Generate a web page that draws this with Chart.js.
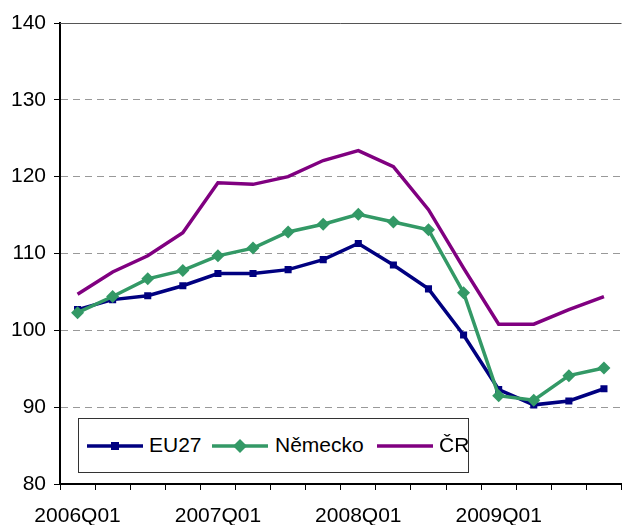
<!DOCTYPE html>
<html>
<head>
<meta charset="utf-8">
<script src="https://cdn.jsdelivr.net/npm/chart.js@4"></script>
<style>
  body { margin: 0; background: #fff; overflow: hidden; }
  #wrap { position: relative; width: 623px; height: 525px; overflow: hidden; }
  #legend {
    position: absolute; left: 78px; top: 418px; width: 389px; height: 53px;
    border: 1px solid #333; background: #fff;
    font-family: "Liberation Sans", Arial, sans-serif; font-size: 21px; color: #000;
  }
  .item { position: absolute; top: 0; height: 53px; line-height: 51px; white-space: nowrap; }
  .item svg { position: absolute; top: 20px; left: 0; }
  .item span { position: absolute; top: 0; }
</style>
</head>
<body>
<div id="wrap">
  <!-- a little wider than the window: the layout keeps ~5px free on the right -->
  <canvas id="chart" width="628" height="525"></canvas>
  <div id="legend"></div>
</div>
<script>
const quarters = ["2006Q01", "2006Q02", "2006Q03", "2006Q04",
                  "2007Q01", "2007Q02", "2007Q03", "2007Q04",
                  "2008Q01", "2008Q02", "2008Q03", "2008Q04",
                  "2009Q01", "2009Q02", "2009Q03", "2009Q04"];
const eu27 = [102.7, 104.0, 104.5, 105.8, 107.4, 107.4, 107.9, 109.2,
              111.3, 108.5, 105.4, 99.4, 92.3, 90.3, 90.8, 92.4];
const nemecko = [102.3, 104.4, 106.7, 107.8, 109.7, 110.7, 112.8, 113.8,
                 115.1, 114.1, 113.1, 104.9, 91.5, 90.9, 94.1, 95.1];
const cr = [104.7, 107.6, 109.7, 112.7, 119.2, 119.0, 120.0, 122.1,
            123.4, 121.3, 115.7, 108.1, 100.8, 100.8, 102.7, 104.4];
const seriesNames = ["EU27", "Německo", "ČR"];
const seriesColors = ["#000080", "#339966", "#800080"];

const font = { family: "'Liberation Sans', Arial, sans-serif", size: 21 };

// top border line of the plot area
const topLine = {
  id: "topLine",
  afterDraw(chart) {
    const a = chart.chartArea, c = chart.ctx;
    c.save();
    c.strokeStyle = "#555";
    c.lineWidth = 1;
    c.beginPath();
    c.moveTo(a.left, a.top + 0.5);
    c.lineTo(a.right, a.top + 0.5);
    c.stroke();
    c.restore();
  }
};

const ctx = document.getElementById("chart").getContext("2d");
new Chart(ctx, {
  type: "line",
  data: {
    labels: quarters,
    datasets: [
      { label: seriesNames[0], data: eu27, borderColor: seriesColors[0], backgroundColor: seriesColors[0],
        borderWidth: 3.5, pointStyle: "rect", pointRadius: 5, pointBorderWidth: 0, order: 3 },
      { label: seriesNames[1], data: nemecko, borderColor: seriesColors[1], backgroundColor: seriesColors[1],
        borderWidth: 3.5, pointStyle: "rectRot", pointRadius: 6.5, pointBorderWidth: 0, order: 2 },
      { label: seriesNames[2], data: cr, borderColor: seriesColors[2], backgroundColor: seriesColors[2],
        borderWidth: 3.5, pointRadius: 0, order: 1 }
    ]
  },
  options: {
    responsive: false,
    animation: false,
    layout: { padding: { top: 23, right: 0, left: 0, bottom: 0 } },
    plugins: { legend: { display: false }, tooltip: { enabled: false } },
    scales: {
      x: {
        offset: true,
        grid: { offset: true, drawOnChartArea: false, tickLength: 6, color: "#000" },
        border: { color: "#000", width: 2 },
        ticks: {
          color: "#000", font: font, autoSkip: false, maxRotation: 0, padding: 14,
          callback: function(v, i) { return i % 4 === 0 ? quarters[i] : ""; }
        },
        afterFit(scale) { scale.height = 41; }
      },
      y: {
        min: 80, max: 140,
        ticks: { stepSize: 10, color: "#000", font: font, padding: 8 },
        grid: {
          color: function(c) { return (c.tick && (c.tick.value === 140 || c.tick.value === 80)) ? "rgba(0,0,0,0)" : "#999"; },
          tickColor: "#000", tickLength: 6
        },
        border: { color: "#000", width: 2, dash: [7, 5] },
        afterFit(scale) { scale.width = 60; }
      }
    }
  },
  plugins: [topLine]
});

// legend
const legend = document.getElementById("legend");
const items = [
  { left: 8, text: 70, marker: "rect" },
  { left: 133, text: 196, marker: "diamond" },
  { left: 298, text: 360, marker: "none" }
];
items.forEach(function(it, i) {
  const d = document.createElement("div");
  d.className = "item";
  d.style.left = it.left + "px";
  let m = "";
  if (it.marker === "rect") m = '<rect x="24" y="2" width="8" height="8" fill="' + seriesColors[i] + '"/>';
  if (it.marker === "diamond") m = '<polygon points="28,-1 35,6 28,13 21,6" fill="' + seriesColors[i] + '"/>';
  d.innerHTML = '<svg width="57" height="14" viewBox="0 -1 57 14" overflow="visible">' +
    '<line x1="0" y1="6" x2="56" y2="6" stroke="' + seriesColors[i] + '" stroke-width="3.5"/>' + m + '</svg>' +
    '<span style="left:' + (it.text - it.left) + 'px">' + seriesNames[i] + '</span>';
  legend.appendChild(d);
});
</script>
</body>
</html>
